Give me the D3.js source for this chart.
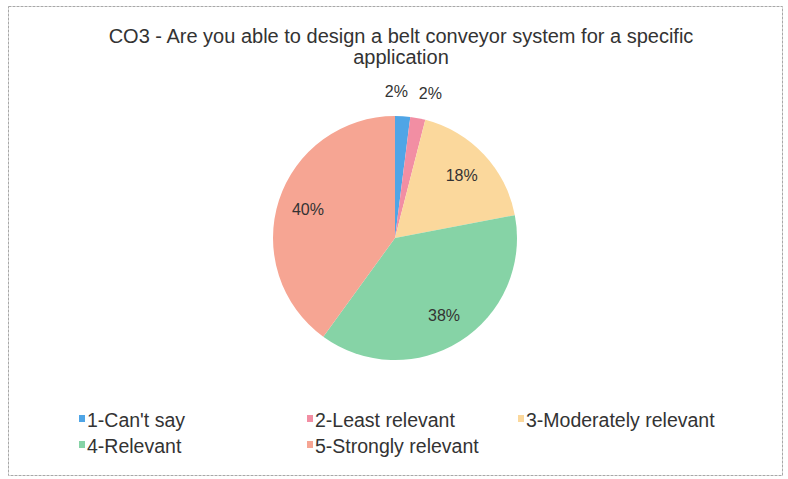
<!DOCTYPE html>
<html><head><meta charset="utf-8">
<script src="https://cdn.jsdelivr.net/npm/d3@7"></script>
<style>html,body{margin:0;padding:0;background:#fff;}svg{display:block;font-family:"Liberation Sans",Arial,sans-serif;}</style>
</head><body>
<svg id="c" width="788" height="479"></svg>
<script>
const categories = ["1-Can't say","2-Least relevant","3-Moderately relevant","4-Relevant","5-Strongly relevant"];
const values = [2, 2, 18, 38, 40];
const colors = ["#4fa5e6","#f28ea3","#fbd89c","#86d3a6","#f6a593"];
const titleLines = ["CO3 - Are you able to design a belt conveyor system for a specific","application"];

const svg = d3.select("#c");
svg.append("rect").attr("x",8.5).attr("y",6.5).attr("width",774).attr("height",469)
  .attr("fill","#fff").attr("stroke","#a8a8a8").attr("stroke-width",1).attr("stroke-dasharray","3,1");

svg.append("g").selectAll("text").data(titleLines).join("text")
  .attr("x",401).attr("y",(d,i)=>43+i*21).attr("text-anchor","middle")
  .attr("font-size",20).attr("fill","#333").text(d=>d);

const cx=395, cy=238, r=122;
const pie = d3.pie().sort(null).value(d=>d)(values);
const arc = d3.arc().innerRadius(0).outerRadius(r);
const g = svg.append("g").attr("transform",`translate(${cx},${cy})`);
g.selectAll("path").data(pie).join("path").attr("d",arc).attr("fill",(d,i)=>colors[i]);

const inArc = d3.arc().innerRadius(r*0.75).outerRadius(r*0.75);
const outArc = d3.arc().innerRadius(r+25).outerRadius(r+25);
const labels = pie.map((d,i)=>{
  const small = d.value < 5;
  const p = small ? outArc.centroid(d) : inArc.centroid(d);
  return {x:p[0], y:p[1], small, text:d.value+"%"};
});
const outs = labels.filter(l=>l.small);
for(let k=1;k<outs.length;k++){
  const a=outs[k-1], b=outs[k];
  const gap=b.x-a.x;
  if(gap<34){const s=(34-gap)/2; a.x-=s; b.x+=s;}
}
g.selectAll("text.lbl").data(labels).join("text").attr("class","lbl")
  .attr("x",d=>d.x).attr("y",d=>d.y).attr("dy","0.35em").attr("text-anchor","middle")
  .attr("font-size",16).attr("fill","#333").text(d=>d.text);

const legX=[79,307,518], legY=[420,446];
const leg = svg.append("g").selectAll("g").data(categories).join("g")
  .attr("transform",(d,i)=>`translate(${legX[i%3]},${legY[Math.floor(i/3)]})`);
leg.append("rect").attr("x",0).attr("y",-5).attr("width",6).attr("height",7).attr("fill",(d,i)=>colors[i]);
leg.append("text").attr("x",8).attr("y",0).attr("dy","0.35em").attr("font-size",19.5).attr("fill","#333").text(d=>d);
</script>
</body></html>
